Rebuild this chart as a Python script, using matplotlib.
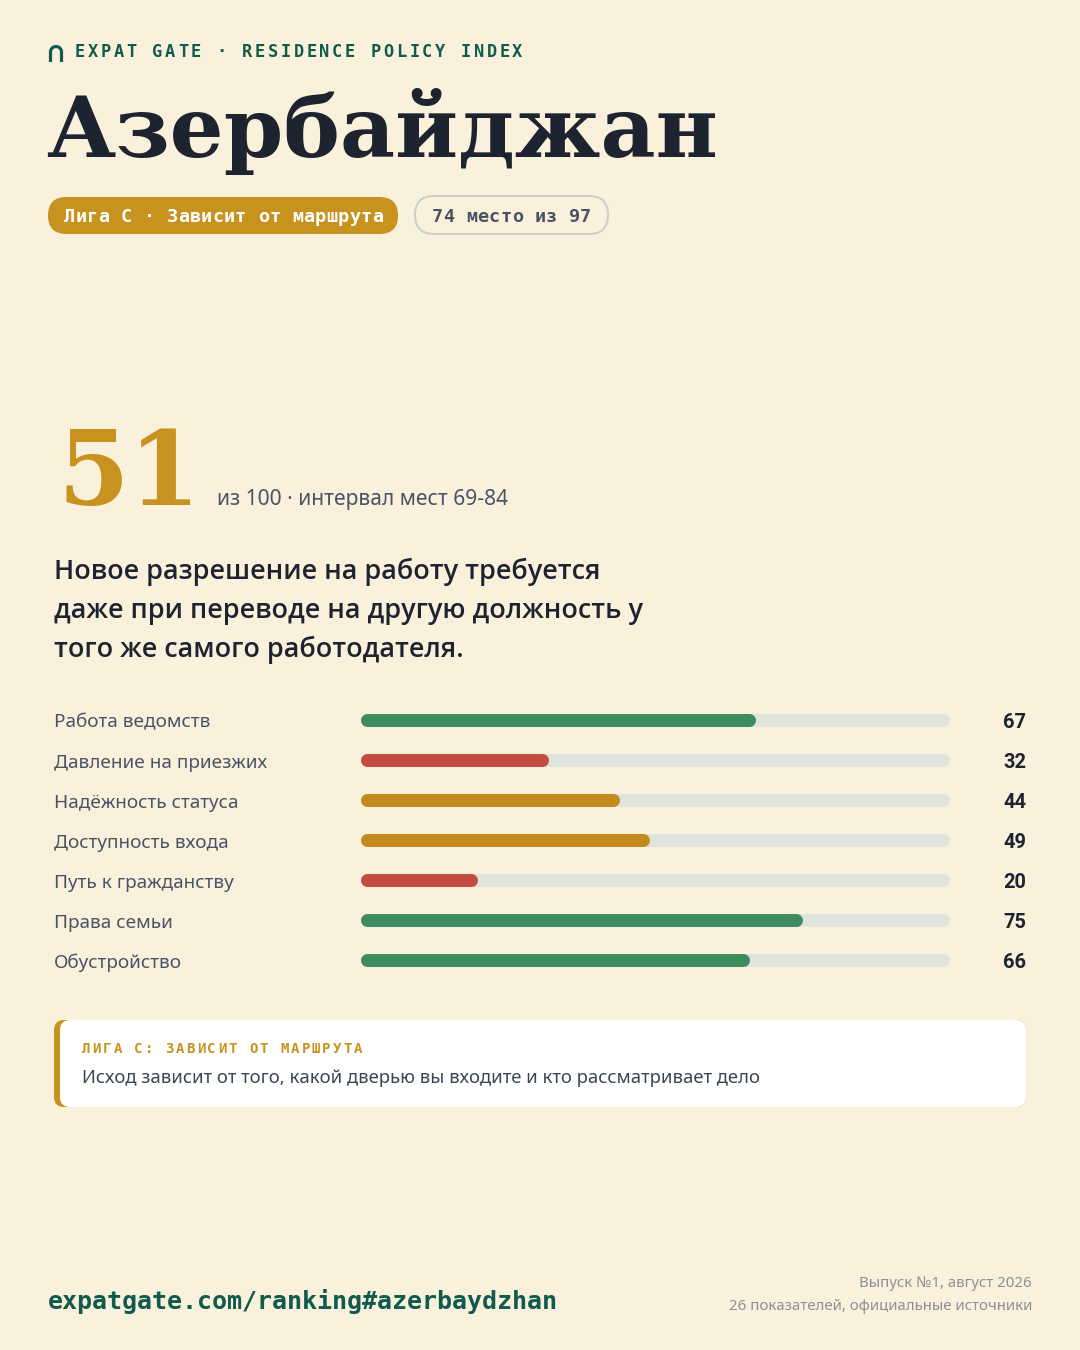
import numpy as np
import matplotlib
matplotlib.use("Agg")
import matplotlib.pyplot as plt
from matplotlib.patches import FancyBboxPatch
from matplotlib import transforms

# ---------------- data ----------------
brand = "EXPAT GATE · RESIDENCE POLICY INDEX"
country = "Азербайджан"
league_pill = "Лига C · Зависит от маршрута"
rank_pill = "74 место из 97"
score = 51
score_suffix = "из 100 · интервал мест 69-84"
quote_lines = [
    "Новое разрешение на работу требуется",
    "даже при переводе на другую должность у",
    "того же самого работодателя.",
]
categories = [
    "Работа ведомств",
    "Давление на приезжих",
    "Надёжность статуса",
    "Доступность входа",
    "Путь к гражданству",
    "Права семьи",
    "Обустройство",
]
values = [67, 32, 44, 49, 20, 75, 66]
callout_title = "ЛИГА C: ЗАВИСИТ ОТ МАРШРУТА"
callout_body = "Исход зависит от того, какой дверью вы входите и кто рассматривает дело"
footer_url = "expatgate.com/ranking#azerbaydzhan"
footer_right = ["Выпуск №1, август 2026", "26 показателей, официальные источники"]

# ---------------- style ----------------
BG = "#faf1dc"
INK = "#1d2430"
SLATE = "#4a5365"
TEAL = "#0f5b4d"
GOLD = "#c8921e"
GREEN = "#3e8b60"
RED = "#c24c3f"
AMBER = "#c38b1d"
TRACK = "#dfe4dd"
GREY = "#8c9096"

def bar_color(v):
    if v >= 60:
        return GREEN
    if v >= 40:
        return AMBER
    return RED

PT = 0.72  # px -> pt at dpi 100
SANS = ["Noto Sans", "DejaVu Sans"]
SEMI = ["Open Sans", "DejaVu Sans"]
NUM = ["Roboto", "DejaVu Sans"]
MONO = ["DejaVu Sans Mono"]
SERIF = ["DejaVu Serif"]

fig = plt.figure(figsize=(10.8, 13.5), dpi=100, facecolor=BG)
ax = fig.add_axes([0, 0, 1, 1])
ax.set_xlim(0, 1080)
ax.set_ylim(1350, 0)
ax.axis("off")
ax.set_facecolor(BG)


def spaced(x, y, s, step, **kw):
    for i, ch in enumerate(s):
        ax.text(x + i * step, y, ch, ha="left", va="baseline", **kw)


# logo arch
t = np.linspace(np.pi, 0, 40)
ax_x = np.concatenate([[50.5], 56 + 5.5 * np.cos(t), [61.5]])
ax_y = np.concatenate([[62], 52 - 5.5 * np.sin(t), [62]])
ax.plot(ax_x, ax_y, color=TEAL, lw=3.2 * PT, solid_capstyle="butt", solid_joinstyle="round")

# header
spaced(75, 57, brand, 12.86, family=MONO, fontsize=17 * PT, fontweight="bold", color=TEAL)

# title
ax.text(46, 157, country, ha="left", va="baseline", family=SERIF, fontweight="bold",
        fontsize=85 * PT, color=INK)

# pills
ax.add_patch(FancyBboxPatch((48, 197), 350, 37, boxstyle="round,pad=0,rounding_size=18.5",
                            fc=GOLD, ec="none"))
spaced(64, 222, league_pill, 11.4, family=MONO, fontsize=18.5 * PT, fontweight="bold", color="white")
ax.add_patch(FancyBboxPatch((415, 196), 193, 38, boxstyle="round,pad=0,rounding_size=19",
                            fc="none", ec="#c9cfca", lw=2 * PT))
spaced(432, 222, rank_pill, 11.4, family=MONO, fontsize=18.5 * PT, fontweight="bold", color=SLATE)

# score
ax.text(58, 505, str(score), ha="left", va="baseline", family=SERIF, fontweight="bold",
        fontsize=103 * PT, color=GOLD)
ax.text(217, 505, score_suffix, ha="left", va="baseline", family=SANS, fontsize=21 * PT,
        color=SLATE)

# quote
for i, line in enumerate(quote_lines):
    ax.text(54, 579 + 39 * i, line, ha="left", va="baseline", family=SEMI,
            fontweight="semibold", fontsize=27 * PT, color=INK)

# bars
n = len(categories)
bx0, bx1, by0, by1 = 360, 950, 700, 980
bax = fig.add_axes([bx0 / 1080, 1 - by1 / 1350, (bx1 - bx0) / 1080, (by1 - by0) / 1350])
bax.set_xlim(0, 100)
bax.set_ylim(n - 0.5, -0.5)
bax.axis("off")
LW = 13  # px
cap = (LW / 2) / (bx1 - bx0) * 100
for i, v in enumerate(values):
    bax.plot([cap, 100 - cap], [i, i], color=TRACK, lw=LW * PT, solid_capstyle="round")
    bax.plot([cap, v - cap], [i, i], color=bar_color(v), lw=LW * PT, solid_capstyle="round")

tr = transforms.blended_transform_factory(ax.transData, bax.transData)
tr = tr + transforms.ScaledTranslation(0, -2.5 / 100, fig.dpi_scale_trans)
for i, (c, v) in enumerate(zip(categories, values)):
    ax.text(54, i, c, transform=tr, ha="left", va="center", family=SANS, fontsize=19 * PT,
            color=SLATE)
    ax.text(1026, i, str(v), transform=tr, ha="right", va="center", family=NUM,
            fontweight="bold", fontsize=20 * PT, color=INK)

# callout
ax.add_patch(FancyBboxPatch((54, 1020), 972, 87, boxstyle="round,pad=0,rounding_size=10",
                            fc=GOLD, ec="none"))
ax.add_patch(FancyBboxPatch((60, 1020), 966, 87, boxstyle="round,pad=0,rounding_size=10",
                            fc="white", ec="none"))
spaced(82, 1053, callout_title, 10.45, family=MONO, fontsize=14 * PT, fontweight="bold",
       color=GOLD)
ax.text(82, 1083, callout_body, ha="left", va="baseline", family=SANS, fontsize=18.5 * PT,
        color="#3a4556")

# footer
ax.text(48, 1309, footer_url, ha="left", va="baseline", family=MONO, fontweight="bold",
        fontsize=25 * PT, color=TEAL)
ax.text(1032, 1287, footer_right[0], ha="right", va="baseline", family=SANS,
        fontsize=15 * PT, color=GREY)
ax.text(1032, 1310, footer_right[1], ha="right", va="baseline", family=SANS,
        fontsize=15 * PT, color=GREY)

fig.savefig("out.png", dpi=100, facecolor=BG)
